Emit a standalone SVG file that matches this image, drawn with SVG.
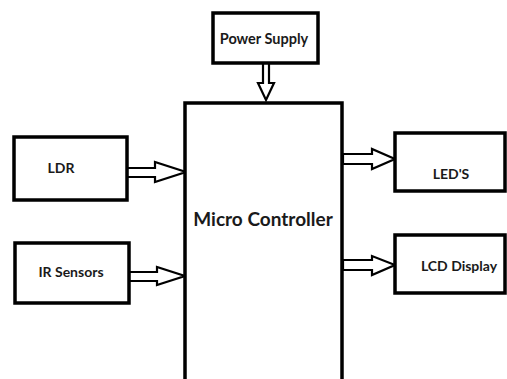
<svg xmlns="http://www.w3.org/2000/svg" width="507" height="379" viewBox="0 0 507 379">
<style>
.box{fill:#fff;stroke:#000;stroke-width:3.5}
.lbl{font-family:Lato,"Liberation Sans",sans-serif;font-weight:bold;fill:#1a1a1a;text-anchor:middle;dominant-baseline:central}
.arr{fill:#fff;stroke:#000;stroke-width:2.2;stroke-linejoin:miter}
</style>
<rect width="507" height="379" fill="#fff"/>
<g id="connectors">
<polygon class="arr" points="263,63 269,63 269,83 274,83 266,100 258,83 263,83"/>
<polygon class="arr" points="127,168 155,168 155,162 186,172 155,182 155,177 127,177"/>
<polygon class="arr" points="129,272 157,272 157,267 185,276 157,285 157,281 129,281"/>
<polygon class="arr" points="343,154 372,154 372,149 395,159 372,169 372,164 343,164"/>
<polygon class="arr" points="343,260 372,260 372,256 395,265 372,275 372,270 343,270"/>
</g>
<g id="power">
<rect class="box" x="213" y="13" width="105" height="50"/>
<text class="lbl" x="264" y="38" font-size="14.5">Power Supply</text>
</g>
<g id="mcu">
<rect class="box" x="185" y="103" width="157" height="290"/>
<text class="lbl" x="263" y="218" font-size="19">Micro Controller</text>
</g>
<g id="ldr">
<rect class="box" x="14" y="137" width="113" height="63"/>
<text class="lbl" x="61" y="167" font-size="14">LDR</text>
</g>
<g id="ir">
<rect class="box" x="15" y="243" width="114" height="60"/>
<text class="lbl" x="71" y="271" font-size="14">IR Sensors</text>
</g>
<g id="leds">
<rect class="box" x="395" y="133" width="110" height="58"/>
<text class="lbl" x="451" y="173" font-size="14">LED'S</text>
</g>
<g id="lcd">
<rect class="box" x="395" y="235" width="110" height="58"/>
<text class="lbl" x="459" y="265" font-size="14">LCD Display</text>
</g>
</svg>
